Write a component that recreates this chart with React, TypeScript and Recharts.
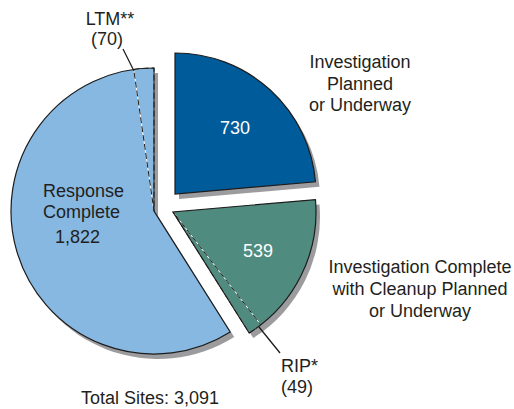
import { PieChart, Pie, Cell } from 'recharts'

const categories = [
  'Investigation Planned or Underway',
  'Investigation Complete with Cleanup Planned or Underway',
  'Response Complete',
]
const siteCounts = [730, 539, 1822]
const ltmCount = 70
const ripCount = 49

const colors = ['#005b9b', '#4f8b7e', '#86b8e2']
const shadowColor = '#9c9c9f'
const outlineColor = '#1c1c1c'
const textColor = '#231f20'
const font = '"Liberation Sans", Arial, sans-serif'

// each slice is pulled out by hand in the original, so each has its own center
const sliceGeo = [
  { cx: 175, cy: 194, r: 141 },
  { cx: 173, cy: 212, r: 143 },
  { cx: 154, cy: 211, r: 143 },
]
const SHADOW_DX = 4
const SHADOW_DY = 5

const totalSites = siteCounts.reduce((a, b) => a + b, 0)
const rows = categories.map((name, i) => ({ name, value: siteCounts[i] }))

// same circle, with LTM split off the end of "Response Complete"
const ltmRows = [
  rows[0],
  rows[1],
  { name: 'Response Complete (other)', value: siteCounts[2] - ltmCount },
  { name: 'LTM', value: ltmCount },
]
// and RIP split off the end of "Investigation Complete"
const ripRows = [
  rows[0],
  { name: 'Investigation Complete (other)', value: siteCounts[1] - ripCount },
  { name: 'RIP', value: ripCount },
  rows[2],
]

type Row = { name: string; value: number }

function slicePie(
  key: string,
  data: Row[],
  geo: { cx: number; cy: number; r: number },
  only: number,
  cell: Record<string, unknown>,
) {
  return (
    <Pie
      key={key}
      data={data}
      dataKey="value"
      nameKey="name"
      cx={geo.cx}
      cy={geo.cy}
      outerRadius={geo.r}
      startAngle={90}
      endAngle={-270}
      stroke="none"
      isAnimationActive={false}
    >
      {data.map((_, i) =>
        i === only ? (
          <Cell key={`c-${i}`} {...cell} />
        ) : (
          <Cell key={`c-${i}`} fill="none" stroke="none" />
        ),
      )}
    </Pie>
  )
}

// text sits in its own svg on top of the chart so the slices don't cover it
function Annotations() {
  const t = { fontFamily: font, fontSize: 18, fill: textColor }
  return (
    <svg
      width={514}
      height={409}
      style={{ position: 'absolute', left: 0, top: 0, pointerEvents: 'none' }}
    >
      <text x={110} y={25} textAnchor="middle" {...t}>LTM**</text>
      <text x={107} y={45} textAnchor="middle" {...t}>({ltmCount})</text>
      <line x1={123} y1={49} x2={134} y2={71} stroke={outlineColor} strokeWidth={1.3} />

      <text x={360} y={68} textAnchor="middle" {...t}>Investigation</text>
      <text x={360} y={90} textAnchor="middle" {...t}>Planned</text>
      <text x={360} y={111} textAnchor="middle" {...t}>or Underway</text>
      <text x={235} y={134} textAnchor="middle" {...t} fill="#fff">
        {siteCounts[0].toLocaleString('en-US')}
      </text>

      <text x={43} y={197} {...t}>Response</text>
      <text x={43} y={218} {...t}>Complete</text>
      <text x={55} y={243} {...t}>{siteCounts[2].toLocaleString('en-US')}</text>

      <text x={258} y={257} textAnchor="middle" {...t} fill="#fff">
        {siteCounts[1].toLocaleString('en-US')}
      </text>
      <text x={420} y={273} textAnchor="middle" {...t}>Investigation Complete</text>
      <text x={420} y={295} textAnchor="middle" {...t}>with Cleanup Planned</text>
      <text x={420} y={317} textAnchor="middle" {...t}>or Underway</text>

      <line x1={259} y1={327} x2={280} y2={353} stroke={outlineColor} strokeWidth={1.3} />
      <text x={281} y={372} {...t}>RIP*</text>
      <text x={281} y={393} {...t}>({ripCount})</text>

      <text x={150} y={404} textAnchor="middle" {...t}>
        Total Sites: {totalSites.toLocaleString('en-US')}
      </text>
    </svg>
  )
}

export default function App() {
  const shadowGeo = sliceGeo.map((g) => ({ ...g, cx: g.cx + SHADOW_DX, cy: g.cy + SHADOW_DY }))
  return (
    <div style={{ position: 'absolute', left: 0, top: 0, width: 514, height: 409, background: '#fff' }}>
      <PieChart width={514} height={409} margin={{ top: 0, right: 0, bottom: 0, left: 0 }}>
        {rows.map((_, i) => slicePie(`shadow-${i}`, rows, shadowGeo[i], i, { fill: shadowColor, stroke: 'none' }))}
        {rows.map((_, i) => slicePie(`fill-${i}`, rows, sliceGeo[i], i, { fill: colors[i], stroke: 'none' }))}

        {slicePie('ltm-white', ltmRows, sliceGeo[2], 3, { fill: 'none', stroke: '#fff', strokeWidth: 1 })}
        {slicePie('ltm-dash', ltmRows, sliceGeo[2], 3, {
          fill: 'none',
          stroke: outlineColor,
          strokeWidth: 1,
          strokeDasharray: '6 3',
        })}
        {slicePie('rip-white', ripRows, sliceGeo[1], 2, { fill: 'none', stroke: '#fff', strokeWidth: 1 })}
        {slicePie('rip-dash', ripRows, sliceGeo[1], 2, {
          fill: 'none',
          stroke: outlineColor,
          strokeWidth: 1,
          strokeDasharray: '6 3',
        })}

        {rows.map((_, i) =>
          slicePie(`line-${i}`, rows, sliceGeo[i], i, { fill: 'none', stroke: outlineColor, strokeWidth: 1.2 }),
        )}
      </PieChart>
      <Annotations />
    </div>
  )
}
